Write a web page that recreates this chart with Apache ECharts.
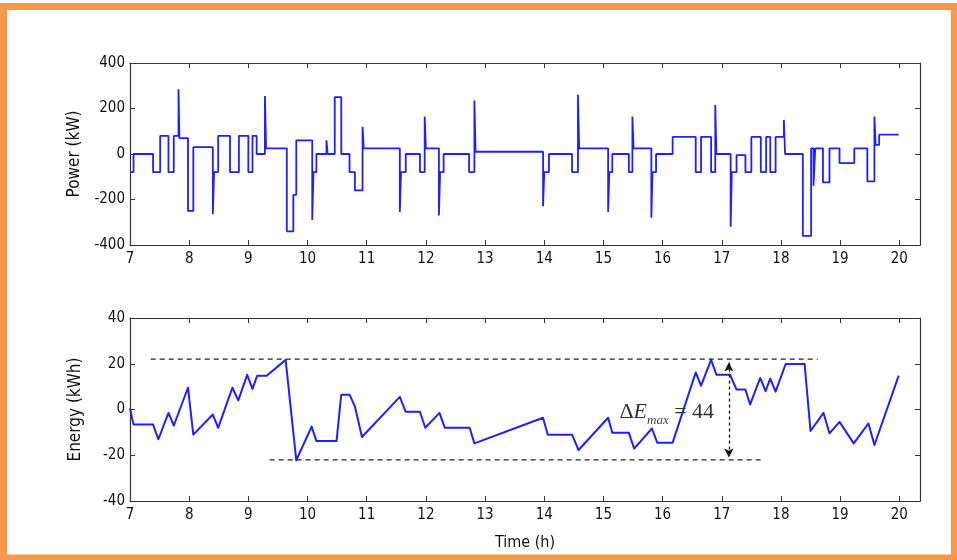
<!DOCTYPE html>
<html>
<head>
<meta charset="utf-8">
<script src="https://cdn.jsdelivr.net/npm/echarts@6/dist/echarts.min.js"></script>
<style>
  html, body { margin: 0; padding: 0; background: #fff; }
  #chart { width: 957px; height: 560px; }
</style>
</head>
<body>
<div id="chart"></div>
<script>
// Time axis (hours)
const hourMin = 7;
const hourMax = 20.35;

// Power profile: each value holds from its time until the next time
const powerTime = [7.00, 7.06, 7.39, 7.51, 7.65, 7.74, 7.82, 7.835, 7.98, 8.07,
  8.40, 8.42, 8.49, 8.69, 8.84, 9.00, 9.07, 9.14, 9.28, 9.30,
  9.65, 9.76, 9.81, 10.08, 10.10, 10.15, 10.32, 10.34, 10.46, 10.57,
  10.71, 10.80, 10.93, 10.95, 11.56, 11.58, 11.66, 11.90, 11.98, 12.00,
  12.22, 12.24, 12.30, 12.73, 12.82, 12.84, 13.98, 14.00, 14.08, 14.47,
  14.57, 14.59, 15.08, 15.10, 15.15, 15.43, 15.49, 15.51, 15.81, 15.83,
  15.89, 16.17, 16.56, 16.65, 16.82, 16.89, 16.91, 17.15, 17.17, 17.25,
  17.40, 17.50, 17.66, 17.75, 17.82, 17.91, 18.05, 18.07, 18.37, 18.51,
  18.55, 18.58, 18.71, 18.82, 18.99, 19.24, 19.46, 19.58, 19.60, 19.66, 19.99];
const powerKW = [-80, 0, -80, 80, -80, 80, 285, 70, -250, 30,
  -265, -80, 80, -80, 80, -80, 80, 0, 255, 25,
  -340, -180, 60, -290, -80, 0, 60, 0, 250, 0,
  -80, -160, 120, 25, -255, -80, 0, -80, 165, 25,
  -270, -80, 0, -80, 235, 10, -230, -80, 0, -80,
  260, 25, -255, -80, 0, -80, 165, 25, -280, -80,
  0, 75, -80, 75, -80, 215, 0, -320, -80, -5,
  -80, 75, -80, 75, -80, 75, 150, 0, -360, 25,
  -140, 25, -125, 25, -40, 25, -120, 165, 40, 85, 85];

// Stored energy
const energyTime = [7.00, 7.06, 7.39, 7.48, 7.65, 7.74, 7.98, 8.07, 8.40, 8.49,
  8.73, 8.83, 8.98, 9.07, 9.15, 9.31, 9.63, 9.81, 10.07, 10.15,
  10.49, 10.57, 10.71, 10.80, 10.92, 11.56, 11.66, 11.90, 11.99, 12.23,
  12.32, 12.74, 12.82, 13.98, 14.06, 14.47, 14.58, 15.08, 15.15, 15.43,
  15.52, 15.82, 15.91, 16.17, 16.56, 16.65, 16.82, 16.91, 17.14, 17.25,
  17.40, 17.48, 17.65, 17.74, 17.82, 17.91, 18.08, 18.40, 18.50, 18.72,
  18.82, 18.99, 19.23, 19.48, 19.58, 19.99];
const energyKWh = [0.5, -6.6, -6.6, -13, -1.5, -7, 9.5, -11, -2.2, -8,
  9.5, 4, 15.2, 9, 14.8, 14.8, 21.7, -22.2, -7.5, -13.8,
  -13.8, 6.5, 6.5, 1.4, -12, 5.5, -1, -1, -8, -1.5,
  -8, -8, -14.8, -3.6, -11, -11, -17.7, -3.6, -10.2, -10.2,
  -17.1, -8.3, -14.5, -14.5, 16.2, 10.4, 21.7, 15.2, 15.2, 8.7,
  8.7, 2.2, 13.8, 8, 13.5, 7.8, 19.9, 19.9, -9.4, -1.5,
  -10.4, -5.4, -14.8, -6.1, -15.5, 14.8];

// Energy envelope
const upperLevel = 22;
const lowerLevel = -22;
const upperBandTime = [7.35, 18.62];
const lowerBandTime = [9.36, 17.69];
const spanArrowTime = 17.12;
const spanArrowEnds = [20.5, -21];
const spanLabelAt = [16.07, -1.2];

const pairs = (xs, ys) => xs.map((x, i) => [x, ys[i]]);

const axisColor = '#333333';
const labelFont = "'Liberation Sans Narrow', 'DejaVu Sans Condensed', 'Liberation Sans', sans-serif";
const tickLabel = {
  color: '#111', fontSize: 15, fontFamily: labelFont,
};

function hourAxes(gridIndex, withName) {
  const common = {
    type: 'value', gridIndex, min: hourMin, max: hourMax, interval: 1,
    axisLine: { onZero: false, lineStyle: { color: axisColor, width: 1.2 } },
    axisTick: { inside: true, length: 5, lineStyle: { color: axisColor } },
    splitLine: { show: false }
  };
  const bottom = Object.assign({}, common, {
    position: 'bottom',
    axisLabel: Object.assign({}, tickLabel, {
      margin: 7, showMaxLabel: false,
      formatter: v => Number.isInteger(v) ? String(v) : ''
    })
  });
  if (withName) {
    Object.assign(bottom, {
      name: 'Time (h)', nameLocation: 'middle', nameGap: 34,
      nameTextStyle: { color: '#111', fontSize: 16, fontFamily: labelFont }
    });
  }
  const top = Object.assign({}, common, { position: 'top', axisLabel: { show: false } });
  return [bottom, top];
}

function valueAxes(gridIndex, min, max, interval, name) {
  const common = {
    type: 'value', gridIndex, min, max, interval,
    axisLine: { show: true, onZero: false, lineStyle: { color: axisColor, width: 1.2 } },
    axisTick: { show: true, inside: true, length: 5, lineStyle: { color: axisColor } },
    splitLine: { show: false }
  };
  const left = Object.assign({}, common, {
    position: 'left',
    name, nameLocation: 'middle', nameGap: 46, nameRotate: 90,
    nameTextStyle: { color: '#111', fontSize: 17, fontFamily: labelFont },
    axisLabel: Object.assign({}, tickLabel, { margin: 5 })
  });
  const right = Object.assign({}, common, { position: 'right', axisLabel: { show: false } });
  return [left, right];
}

const serif = "'Liberation Serif', 'DejaVu Serif', serif";
const chart = echarts.init(document.getElementById('chart'), null, { renderer: 'canvas' });

chart.setOption({
  animation: false,
  backgroundColor: '#ffffff',
  grid: [
    { left: 130, right: 37, top: 63, height: 182 },
    { left: 130, right: 37, top: 318, height: 183 }
  ],
  xAxis: [...hourAxes(0, false), ...hourAxes(1, true)],
  yAxis: [
    ...valueAxes(0, -400, 400, 200, 'Power (kW)'),
    ...valueAxes(1, -40, 40, 20, 'Energy (kWh)')
  ],
  series: [
    {
      name: 'Power', type: 'line', xAxisIndex: 0, yAxisIndex: 0,
      step: 'end', showSymbol: false,
      lineStyle: { color: '#1f1fff', width: 1.8 },
      data: pairs(powerTime, powerKW)
    },
    {
      name: 'Energy', type: 'line', xAxisIndex: 2, yAxisIndex: 2,
      showSymbol: false,
      lineStyle: { color: '#1f1fff', width: 2, join: 'round' },
      data: pairs(energyTime, energyKWh),
      markPoint: {
        silent: true,
        symbol: 'circle', symbolSize: 1,
        itemStyle: { color: 'rgba(0,0,0,0)' },
        label: {
          show: true, position: 'inside',
          formatter: '{d|\u0394}{e|E}{s|max}{c| = ' + (upperLevel - lowerLevel) + '}',
          rich: {
            d: { fontFamily: serif, fontSize: 22, color: '#333', lineHeight: 30 },
            e: { fontFamily: serif, fontSize: 22, fontStyle: 'italic', color: '#333', lineHeight: 30 },
            s: { fontFamily: serif, fontSize: 13, fontStyle: 'italic', color: '#444', verticalAlign: 'bottom' },
            c: { fontFamily: serif, fontSize: 22, color: '#333', lineHeight: 30 }
          }
        },
        data: [{ coord: spanLabelAt }]
      }
    },
    {
      name: 'Upper envelope', type: 'line', xAxisIndex: 2, yAxisIndex: 2,
      showSymbol: false, silent: true,
      lineStyle: { color: '#222', width: 1.2, type: [5, 4] },
      data: upperBandTime.map(t => [t, upperLevel]),
      markLine: {
        silent: true,
        symbol: ['arrow', 'arrow'], symbolSize: [7, 9],
        lineStyle: { color: '#111', width: 1.3, type: [3, 3] },
        label: { show: false },
        data: [[{ coord: [spanArrowTime, spanArrowEnds[0]] }, { coord: [spanArrowTime, spanArrowEnds[1]] }]]
      }
    },
    {
      name: 'Lower envelope', type: 'line', xAxisIndex: 2, yAxisIndex: 2,
      showSymbol: false, silent: true,
      lineStyle: { color: '#222', width: 1.2, type: [5, 4] },
      data: lowerBandTime.map(t => [t, lowerLevel])
    }
  ],
  graphic: [
    {
      type: 'rect', silent: true, z: 100,
      shape: { x: 3.5, y: 6.5, width: 951, height: 551.5 },
      style: { fill: 'none', stroke: '#f7984a', lineWidth: 7 }
    }
  ]
});
</script>
</body>
</html>
